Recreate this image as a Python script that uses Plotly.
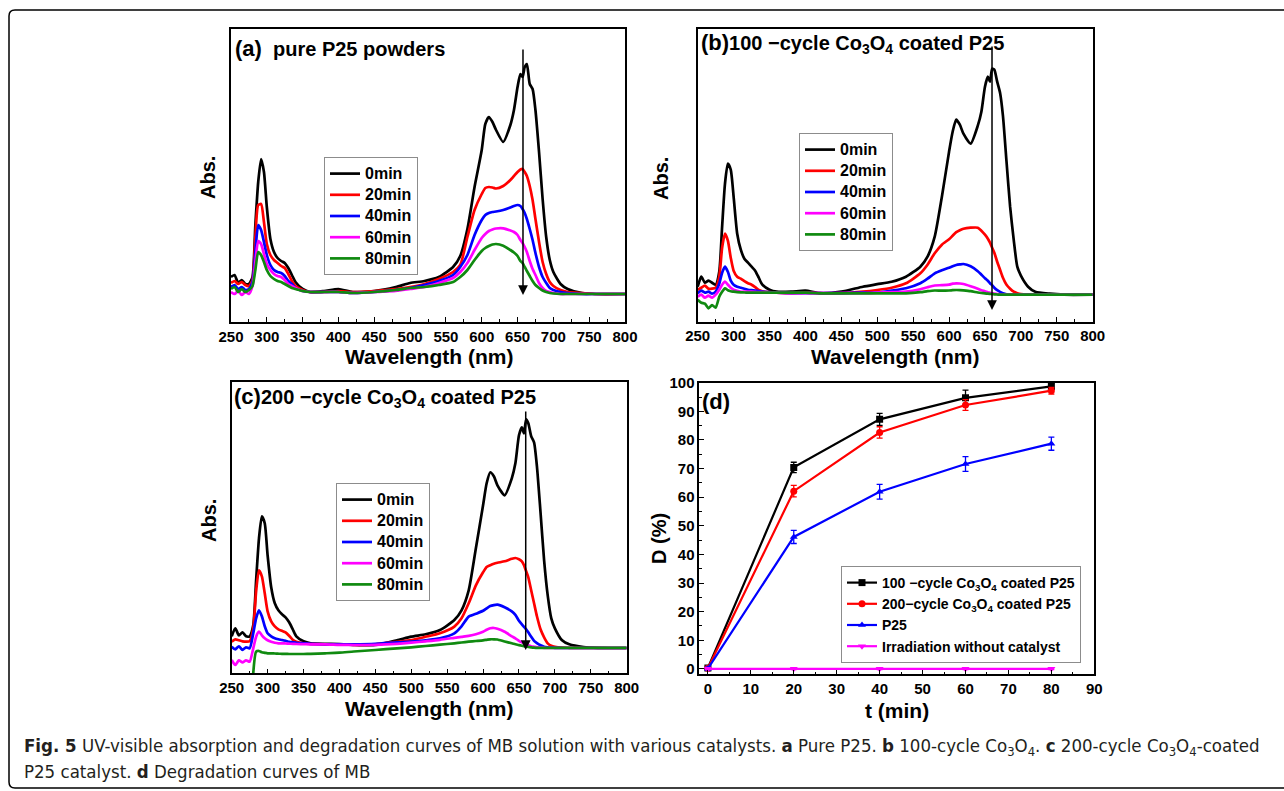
import plotly.graph_objects as go

W, H = 1284, 791

# ---------------- data ----------------
WL = [250, 255, 260, 265, 270, 275, 280, 284, 288, 292, 296, 300, 305, 310, 315, 320, 325, 330, 335, 340,
      350, 360, 380, 400, 420, 450, 480, 500, 520, 540, 560, 570, 580, 590, 600, 605, 610, 615, 620, 630,
      640, 645, 650, 654, 657, 660, 663, 667, 671, 675, 680, 685, 690, 695, 700, 710, 720, 740, 760, 800]

TIMES = ["0min", "20min", "40min", "60min", "80min"]

# (a) pure P25 powders  (arbitrary absorbance units)
A_0 = [45, 47, 39, 42, 38, 38, 45, 97, 140, 163, 150, 115, 83, 70, 64, 61, 59, 54, 47, 40,
       33, 30, 31, 33, 30, 31, 35, 39, 41, 45, 55, 66, 93, 135, 172, 198, 205, 200, 192, 180,
       197, 212, 235, 248, 245, 255, 258, 238, 233, 212, 170, 123, 85, 62, 50, 38, 33, 29, 28, 28]
A_20 = [39, 41, 38, 40, 37, 36, 42, 85, 117, 118, 100, 78, 67, 62, 59, 56, 54, 48, 41, 36,
        32, 30, 30, 31, 30, 31, 33, 35, 38, 43, 50, 57, 85, 112, 128, 134, 135, 134.5, 133.5, 136,
        142, 146, 150, 152.5, 153, 150, 146, 136, 122, 103, 80, 60, 48, 40, 36, 32, 30, 29, 28, 28]
A_40 = [35, 37, 33, 35, 32, 33, 40, 70, 97, 92, 80, 67, 57, 52, 50, 49, 46, 41, 38, 34,
        31, 30, 30, 30, 29, 30, 32, 34, 37, 41, 47, 55, 67, 87, 102, 107, 109, 110, 110.5, 112,
        114.5, 116, 117, 116, 113, 109, 103, 93, 82, 69, 55, 45, 39, 34, 32, 30, 29, 28, 28, 28]
A_60 = [30, 28, 31, 27, 30, 28, 36, 60, 81, 78, 68, 58, 52, 48, 46, 45, 42, 38, 36, 34,
        31, 30, 30, 30, 29, 30, 31, 33, 35, 39, 44, 50, 59, 72, 84, 88, 91, 92.5, 93.5, 93.7,
        91.5, 90, 87, 82, 79, 75, 70, 61, 53, 47, 39, 34, 31, 30, 29, 28, 28, 28, 28, 28]
A_80 = [33, 35, 30, 33, 30, 32, 36, 52, 70, 67, 60, 52, 46, 43, 41, 40, 38, 36, 34, 33,
        31, 30, 30, 30, 29, 30, 32, 34, 35, 37, 40, 45, 52, 62, 71, 74, 76, 77.5, 78, 76.3,
        72, 69.5, 66, 61, 59, 55, 51, 46, 41, 37, 34, 31.5, 30, 29, 28.5, 28, 28, 28, 28, 28]

# (b) 100-cycle Co3O4 coated P25
B_0 = [35, 45, 39, 41, 39, 37, 50, 95, 138, 158, 152, 125, 88, 72, 63, 59, 55, 51, 44, 37,
       32, 30, 30, 31, 28.5, 30, 35, 37.5, 40, 45, 55, 65, 85, 125, 170, 190, 202, 197, 188, 178,
       196, 210, 235, 245, 240, 253, 252, 240, 229, 206, 160, 115, 82, 55, 46, 35, 30, 28, 27, 27]
B_20 = [32, 34, 36, 33, 33, 34, 45, 74, 88, 81, 64, 51, 45, 43, 40.5, 38.5, 37, 34.5, 31.7, 30.5,
        29.5, 29, 28.5, 29, 28.5, 28.5, 30, 31.7, 34, 38.4, 48.4, 57, 68.4, 77, 82.5, 86, 89.5, 91.5, 93, 94,
        94, 91, 87, 83, 79, 74, 69, 60, 52, 44, 37, 33, 30, 28.5, 27.5, 27, 27, 27, 27, 27]
B_40 = [28.4, 31, 29, 30, 28, 30, 38, 49, 55, 50, 41, 37, 35, 34, 33, 32, 31.5, 31, 30.5, 30,
        29.5, 29, 28.5, 28.5, 28.5, 28.5, 29, 29, 31, 33.4, 38.4, 43, 48.4, 51.5, 54, 55.5, 56.7, 57.3, 57.7, 55.5,
        50.5, 47, 43.5, 41, 38.5, 36.5, 34, 31.5, 29.8, 28.5, 27.5, 27, 27, 27, 27, 27, 27, 27, 27, 27]
B_60 = [25, 27, 24, 26, 24, 27, 32, 37, 40, 37, 34, 32, 31, 30, 30, 30, 30, 29.8, 29.6, 29.5,
        29, 29, 28.5, 28.5, 28.5, 28.5, 28.5, 29, 29.5, 30, 32.5, 34.5, 36.2, 36.5, 37, 38, 38.4, 38.2, 37.7, 35.5,
        33, 31.5, 30.5, 29.5, 29, 28.5, 28, 27.7, 27.3, 27, 27, 27, 27, 27, 27, 27, 27, 27, 27, 27]
B_80 = [22, 19, 18, 13.4, 16.7, 14, 25, 30, 33.4, 31.5, 30.5, 30, 29.5, 29.3, 29.2, 29.1, 29, 29, 29, 29,
        29, 29, 29, 29, 28.4, 28.4, 28.4, 28.4, 28.4, 28.4, 29.5, 30.5, 31.2, 31, 31.2, 31.5, 31.7, 31.6, 31.3, 30.5,
        29.2, 28.7, 28.3, 28, 27.8, 27.6, 27.4, 27.2, 27, 27, 27, 27, 27, 27, 27, 27, 27, 27, 27, 27]

# (c) 200-cycle Co3O4 coated P25
C_0 = [37, 45, 38, 41, 37, 37, 48, 93, 135, 157, 150, 118, 86, 70, 63, 59, 56, 51, 44, 37,
       32, 30, 29.5, 29.3, 28.5, 28.3, 33, 36.7, 39, 43.3, 53.3, 63, 83, 125, 168, 190, 201, 197, 188, 178,
       195, 210, 238, 246, 240, 254, 250, 237, 231, 207, 161, 113, 78, 55, 45, 33, 29, 26.3, 25.5, 25.3]
C_20 = [31.6, 34, 33, 32, 31.6, 32, 45, 82, 103, 97, 80, 62, 52, 47, 44, 42.5, 41, 37.5, 33.5, 31.5,
        30, 29.5, 29, 29, 28.5, 29, 31.5, 33.3, 36.5, 40, 46.7, 55, 70, 88, 101, 106.3, 108, 109.5, 110.5, 112,
        114.5, 115.3, 114, 112, 108, 102, 96, 83, 70, 57, 44, 36, 30, 27.5, 26.5, 25.7, 25.5, 25.3, 25.3, 25.3]
C_40 = [26.6, 24, 27, 23.5, 26, 25, 40, 55, 63, 57, 47, 40, 37, 35, 34, 33.3, 32.5, 31.5, 31, 30.5,
        30, 29.5, 29, 29, 29, 29.5, 31, 31.7, 33, 35, 40, 47, 56.7, 59.5, 62.5, 65, 67.3, 68.2, 68.6, 66,
        62, 58.5, 52.5, 49, 46.5, 44, 41, 36.5, 32.5, 30.2, 28, 26.5, 26, 25.7, 25.5, 25.3, 25.3, 25.3, 25.3, 25.3]
C_60 = [13.3, 8.3, 13, 11, 13, 11.6, 25, 36.6, 41.6, 38, 35, 33, 31.5, 30.5, 30, 30, 29.8, 29.6, 29.5, 29.3,
        29.2, 29, 29, 28.5, 28.3, 28.5, 29.5, 30.6, 32, 33.5, 35.5, 36.5, 37.5, 39, 41.5, 43.5, 45, 45.3, 44.5, 41.5,
        37, 35, 32.5, 31, 30, 29, 28, 27, 26.5, 26, 25.7, 25.5, 25.3, 25.3, 25.3, 25.3, 25.3, 25.3, 25.3, 25.3]
C_80 = [None, None, None, None, None, None, 0, 21.6, 22.3, 21, 20.5, 20, 20, 19.8, 19.6, 19.5, 19.4, 19.3, 19.3, 19.3,
        19.3, 19.5, 20, 20.6, 21.8, 23.3, 25, 26, 27.3, 28.6, 30, 30.8, 31.6, 32.3, 33, 33.5, 34, 34, 33.8, 31.8,
        30, 29, 28.2, 27.6, 27.2, 26.8, 26.4, 26, 25.7, 25.5, 25.5, 25.5, 25.5, 25.5, 25.5, 25.5, 25.5, 25.5, 25.5, 25.5]

# (d) degradation curves
T_MIN = [0, 20, 40, 60, 80]
D_100 = [0.3, 70.4, 87.2, 94.7, 98.7]
E_100 = [0.5, 1.8, 2.1, 2.7, 1.0]
D_200 = [0.2, 62.1, 82.6, 92.2, 97.2]
E_200 = [0.5, 2.0, 2.0, 1.9, 1.2]
D_P25 = [0.1, 46.1, 61.9, 71.6, 78.7]
E_P25 = [0.5, 2.3, 2.6, 2.6, 2.3]
D_NONE = [0.0, 0.0, 0.0, 0.0, 0.0]
E_NONE = [0.3, 0.3, 0.3, 0.3, 0.3]

WL_TICKS = [250, 300, 350, 400, 450, 500, 550, 600, 650, 700, 750, 800]
T_TICKS = [0, 10, 20, 30, 40, 50, 60, 70, 80, 90]
D_TICKS = [0, 10, 20, 30, 40, 50, 60, 70, 80, 90, 100]

SPEC_COLORS = ["#000000", "#ff0000", "#0000ff", "#ff00ff", "#108a10"]

# ---------------- helpers (window pixels -> paper fractions) ----------------
def X(px):
    return px / W


def Y(py):
    return 1 - py / H


FONT = "Liberation Sans, Arial, sans-serif"
TICKFONT = dict(family=FONT, size=15, color="black", weight="bold")

fig = go.Figure()

panels = [
    ("x", "y", "legend", [A_0, A_20, A_40, A_60, A_80]),
    ("x2", "y2", "legend2", [B_0, B_20, B_40, B_60, B_80]),
    ("x3", "y3", "legend3", [C_0, C_20, C_40, C_60, C_80]),
]
for xa, ya, lg, series in panels:
    for name, vals, col in zip(TIMES, series, SPEC_COLORS):
        fig.add_trace(go.Scatter(
            x=WL, y=vals, name=f"<span style='font-size:16px'>{name}</span>", mode="lines",
            xaxis=xa, yaxis=ya, legend=lg,
            line=dict(color=col, width=2.7, shape="spline", smoothing=0.6),
            hoverinfo="skip"))

deg = [
    ("100 \u2212cycle Co<sub>3</sub>O<sub>4</sub> coated P25", D_100, E_100, "#000000", "square"),
    ("200\u2212cycle Co<sub>3</sub>O<sub>4</sub> coated P25", D_200, E_200, "#ff0000", "circle"),
    ("P25", D_P25, E_P25, "#0000ff", "triangle-up"),
    ("Irradiation without catalyst", D_NONE, E_NONE, "#ff00ff", "triangle-down"),
]
for name, vals, err, col, sym in deg:
    fig.add_trace(go.Scatter(
        x=T_MIN, y=vals, name=name, mode="lines+markers", xaxis="x4", yaxis="y4", legend="legend4",
        line=dict(color=col, width=2.2),
        marker=dict(color=col, symbol=sym, size=7),
        error_y=dict(type="data", array=err, visible=True, color=col, thickness=1.3, width=3),
        hoverinfo="skip"))

axis_common = dict(showline=True, linecolor="black", linewidth=1.5, mirror=True,
                   showgrid=False, zeroline=False, automargin=False)

def spec_x(dom, anchor):
    return dict(domain=dom, anchor=anchor, range=[250, 800], tickmode="array", tickvals=WL_TICKS,
                ticks="inside", ticklen=5, tickwidth=1.3, tickcolor="black", tickfont=TICKFONT,
                minor=dict(ticks="inside", ticklen=3, dtick=25, tick0=250, tickcolor="black", tickwidth=1.2),
                **axis_common)

def spec_y(dom, anchor, top):
    return dict(domain=dom, anchor=anchor, range=[0, top], showticklabels=False, ticks="",
                **axis_common)

layout = dict(
    width=W, height=H, margin=dict(l=0, r=0, t=0, b=0, autoexpand=False), autosize=False,
    paper_bgcolor="white", plot_bgcolor="white",
    xaxis=spec_x([X(231), X(625)], "y"),
    yaxis=spec_y([Y(322), Y(29)], "x", 293),
    xaxis2=spec_x([X(697.7), X(1092.7)], "y2"),
    yaxis2=spec_y([Y(321.7), Y(29)], "x2", 292.7),
    xaxis3=spec_x([X(231.7), X(626.7)], "y3"),
    yaxis3=spec_y([Y(673.3), Y(381.7)], "x3", 291.6),
    xaxis4=dict(domain=[X(699.3), X(1094.3)], anchor="y4", range=[-2, 90], tickmode="array",
                tickvals=T_TICKS, ticks="inside", ticklen=5, tickwidth=1.3, tickcolor="black",
                tickfont=TICKFONT,
                minor=dict(ticks="inside", ticklen=3, dtick=5, tick0=0, tickcolor="black", tickwidth=1.2),
                **axis_common),
    yaxis4=dict(domain=[Y(674.3), Y(382.7)], anchor="x4", range=[-1.9, 100], tickmode="array",
                tickvals=D_TICKS, ticks="inside", ticklen=5, tickwidth=1.3, tickcolor="black",
                tickfont=TICKFONT,
                minor=dict(ticks="inside", ticklen=3, dtick=5, tick0=0, tickcolor="black", tickwidth=1.2),
                **axis_common),
)

leg_common = dict(bgcolor="white", bordercolor="#8c8c8c", borderwidth=1, xanchor="left", yanchor="top",
                  xref="paper", yref="paper")
spec_leg_font = dict(family=FONT, size=14, color="black", weight="bold")
layout["legend"] = dict(x=X(324), y=Y(157), font=spec_leg_font, **leg_common)
layout["legend2"] = dict(x=X(799), y=Y(133), font=spec_leg_font, **leg_common)
layout["legend3"] = dict(x=X(336), y=Y(483), font=spec_leg_font, **leg_common)
layout["legend4"] = dict(x=X(841), y=Y(566), font=dict(family=FONT, size=14, color="black", weight="bold"),
                         **leg_common)
fig.update_layout(**layout)

# ---------------- annotations ----------------
def ann(text, px, py, size=20, angle=0, xanchor="center", family=FONT, color="black"):
    fig.add_annotation(text=text, x=X(px), y=Y(py), xref="paper", yref="paper", showarrow=False,
                       xanchor=xanchor, yanchor="middle", textangle=angle,
                       font=dict(family=family, size=size, color=color))

# axis titles
for cx, cy in [(429, 356), (895, 356), (429, 708)]:
    ann("<b>Wavelength (nm)</b>", cx, cy, size=21)
ann("<b>t (min)</b>", 897, 710, size=21)
for cx, cy in [(208, 178), (661, 179), (209, 521)]:
    ann("<b>Abs.</b>", cx, cy, size=20, angle=-90)
ann("<b>D (%)</b>", 659, 539, size=20, angle=-90)

# panel titles
ann("<b><span style='font-size:22px'>(a)</span>  pure P25 powders</b>", 233, 48, size=20, xanchor="left")
ann("<b><span style='font-size:22px'>(b)</span>100 \u2212cycle Co<sub>3</sub>O<sub>4</sub> coated P25</b>",
    699, 44, size=20, xanchor="left")
ann("<b><span style='font-size:22px'>(c)</span>200 \u2212cycle Co<sub>3</sub>O<sub>4</sub> coated P25</b>",
    232, 398, size=20, xanchor="left")
ann("<b>(d)</b>", 700, 401, size=22, xanchor="left")

# arrows (decay direction)
for xr, yr, xv, top, tip in [("x", "y", 657.6, 274, 27), ("x2", "y2", 659.8, 276.7, 11.7),
                             ("x3", "y3", 659.4, 263.3, 23.3)]:
    fig.add_annotation(x=xv, y=tip, ax=xv, ay=top, xref=xr, yref=yr, axref=xr, ayref=yr,
                       showarrow=True, arrowhead=2, arrowsize=1.3, arrowwidth=1.5, arrowcolor="black",
                       text="")

# caption
CAP_FONT = "DejaVu Sans Condensed, Open Sans, sans-serif"
ann("<b>Fig. 5</b> UV-visible absorption and degradation curves of MB solution with various catalysts. "
    "<b>a</b> Pure P25. <b>b</b> 100-cycle Co<sub>3</sub>O<sub>4</sub>. <b>c</b> 200-cycle "
    "Co<sub>3</sub>O<sub>4</sub>-coated", 22, 747, size=18.5, xanchor="left", family=CAP_FONT, color="#231f20")
ann("P25 catalyst. <b>d</b> Degradation curves of MB", 22, 771, size=18.5, xanchor="left",
    family=CAP_FONT, color="#231f20")

# outer rounded frame
def P(px, py):
    return f"{X(px):.5f},{Y(py):.5f}"

L, T, R, B, r = 9, 10, 1300, 788, 6
path = (f"M {P(L, B - r)} L {P(L, T + r)} Q {P(L, T)} {P(L + r, T)} L {P(R, T)} "
        f"M {P(L, B - r)} Q {P(L, B)} {P(L + r, B)} L {P(R, B)}")
fig.add_shape(type="path", path=path, xref="paper", yref="paper", line=dict(color="black", width=1.5))

fig.write_html("out.html")
